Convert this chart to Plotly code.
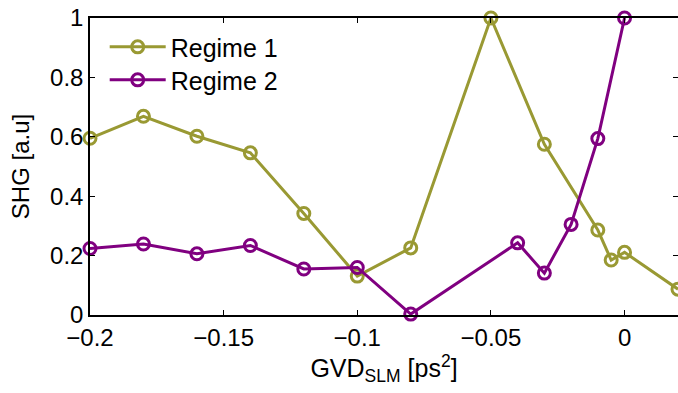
import plotly.graph_objects as go

# Data
gvd_r1 = [-0.2, -0.18, -0.16, -0.14, -0.12, -0.1, -0.08, -0.05, -0.03, -0.01, -0.005, 0.0, 0.02]
shg_r1 = [0.595, 0.669, 0.602, 0.546, 0.342, 0.131, 0.226, 1.0, 0.575, 0.286, 0.185, 0.211, 0.087]

gvd_r2 = [-0.2, -0.18, -0.16, -0.14, -0.12, -0.1, -0.08, -0.04, -0.03, -0.02, -0.01, 0.0]
shg_r2 = [0.224, 0.239, 0.206, 0.234, 0.155, 0.160, 0.003, 0.243, 0.141, 0.305, 0.594, 1.0]

x_ticks = [-0.2, -0.15, -0.1, -0.05, 0]
x_ticklabels = ["\u22120.2", "\u22120.15", "\u22120.1", "\u22120.05", "0"]
y_ticks = [0, 0.2, 0.4, 0.6, 0.8, 1]
y_ticklabels = ["0", "0.2", "0.4", "0.6", "0.8", "1"]

olive = "#999933"
purple = "#800080"
FONT = "Liberation Sans, Arial, sans-serif"

fig = go.Figure()
series = [("Regime 1", gvd_r1, shg_r1, olive, "legend"),
          ("Regime 2", gvd_r2, shg_r2, purple, "legend2")]
for name, xs, ys, col, lg in series:
    fig.add_trace(go.Scatter(
        x=xs, y=ys, name=name, mode="lines+markers", legend=lg,
        line=dict(color=col, width=3),
        marker=dict(symbol="circle-open", size=12, color=col, line=dict(width=3, color=col)),
        cliponaxis=False,
    ))

axis_common = dict(
    showline=True, linecolor="black", linewidth=1.5, mirror="ticks",
    ticks="inside", ticklen=5, tickcolor="black", tickwidth=1,
    showgrid=False, zeroline=False, automargin=False,
    tickfont=dict(family=FONT, size=24, color="black"),
)

leg_common = dict(xanchor="left", yanchor="middle", bgcolor="rgba(0,0,0,0)",
                   font=dict(size=25, family=FONT), itemwidth=56)

fig.update_layout(
    width=678, height=393,
    margin=dict(l=90, r=0, t=18, b=78),
    paper_bgcolor="white", plot_bgcolor="white",
    font=dict(family=FONT, size=24, color="black"),
    showlegend=True,
    legend=dict(x=0.025, y=0.902, **leg_common),
    legend2=dict(x=0.025, y=0.791, **leg_common),
    xaxis=dict(range=[-0.2, 0.02], tickvals=x_ticks, ticktext=x_ticklabels,
               title=dict(text="GVD<sub>SLM</sub> [ps<sup>2</sup>]", standoff=4,
                          font=dict(family=FONT, size=25)),
               **axis_common),
    yaxis=dict(range=[0, 1], tickvals=y_ticks, ticktext=y_ticklabels,
               title=dict(text="SHG [a.u]", standoff=14, font=dict(family=FONT, size=24)),
               **axis_common),
)

fig.write_html("out.html",
               config={"displayModeBar": False},
               post_script="document.body.style.margin='0';document.body.style.overflow='hidden';")
